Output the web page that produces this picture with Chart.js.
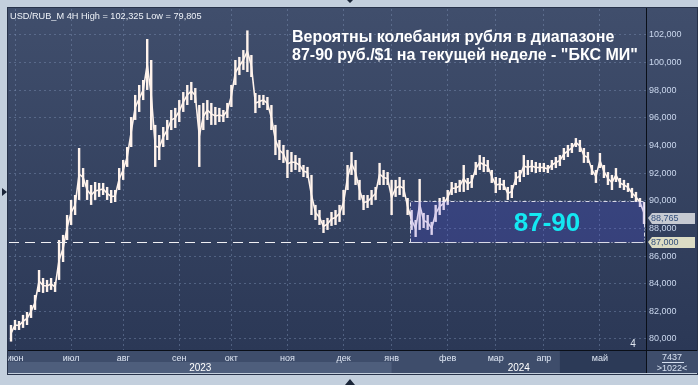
<!DOCTYPE html>
<html>
<head>
<meta charset="utf-8">
<script src="https://cdn.jsdelivr.net/npm/chart.js@4.4.1/dist/chart.umd.min.js"></script>
<style>
  html, body { margin: 0; padding: 0; background: #c3cfdd; }
  canvas { display: block; }
</style>
</head>
<body>
<canvas id="myChart" width="698" height="385"></canvas>
<script>
// 4H bars, USD/RUB, June 2023 - May 2024 (low / high of each bar)
const lows = [79.81, 80.65, 80.65, 80.80, 81.01, 81.52, 82.10, 83.40, 83.33, 83.40,
  83.55, 83.40, 84.27, 85.57, 87.16, 88.25, 88.97, 90.06, 91.00, 90.06,
  89.70, 90.06, 90.28, 90.42, 90.06, 89.84, 89.91, 90.78, 91.51, 92.45,
  93.89, 95.85, 96.43, 97.29, 98.02, 95.12, 92.45, 92.95, 93.89, 94.40,
  95.12, 95.27, 95.70, 96.43, 96.93, 97.29, 97.08, 92.45, 95.12, 95.85,
  95.49, 95.49, 95.70, 95.70, 95.99, 96.79, 98.38, 99.10, 99.47, 99.32,
  98.96, 96.35, 96.72, 96.93, 96.57, 95.12, 93.31, 92.95, 92.74, 91.65,
  92.08, 92.23, 92.08, 91.72, 91.65, 88.97, 88.61, 88.25, 87.67, 87.89,
  88.18, 88.25, 88.47, 88.97, 90.78, 91.87, 91.14, 90.06, 89.33, 89.48,
  89.70, 90.06, 91.14, 91.14, 91.14, 88.97, 90.28, 90.42, 90.28, 88.97,
  87.89, 87.38, 87.89, 88.03, 87.89, 87.53, 88.47, 88.97, 89.33, 89.70,
  90.42, 90.56, 90.64, 90.64, 90.78, 90.93, 91.87, 92.23, 92.08, 92.08,
  91.29, 90.56, 90.78, 90.78, 90.06, 90.20, 91.14, 91.36, 91.72, 91.87,
  92.08, 92.01, 92.08, 92.08, 92.01, 92.23, 92.37, 92.52, 92.95, 93.17,
  93.46, 93.89, 93.53, 92.74, 92.74, 91.87, 91.29, 92.37, 91.65, 91.14,
  90.78, 91.36, 90.93, 90.78, 90.64, 90.20, 89.91, 89.55, 88.32];
const highs = [81.01, 81.37, 81.30, 81.74, 81.95, 82.46, 83.18, 84.99, 84.41, 84.27,
  84.41, 84.12, 87.16, 87.53, 88.97, 90.06, 90.42, 93.82, 92.37, 91.51,
  91.14, 91.36, 91.29, 91.29, 91.00, 90.78, 90.78, 92.37, 92.95, 93.89,
  96.06, 97.66, 98.38, 98.74, 101.71, 100.19, 95.49, 94.76, 95.34, 95.85,
  96.57, 96.72, 97.29, 97.87, 98.38, 98.60, 98.16, 96.93, 97.08, 97.29,
  97.08, 96.79, 96.72, 96.57, 97.08, 98.38, 100.19, 100.41, 100.91, 102.33,
  100.55, 97.80, 97.66, 97.66, 97.51, 96.93, 95.49, 94.40, 94.04, 93.68,
  93.53, 93.31, 93.10, 92.59, 92.45, 91.87, 89.70, 89.33, 88.61, 88.76,
  89.19, 89.33, 89.70, 90.78, 92.59, 93.53, 92.95, 91.51, 90.42, 90.42,
  90.78, 91.00, 92.74, 92.23, 92.08, 91.51, 91.51, 91.72, 91.51, 90.20,
  89.33, 88.61, 91.58, 89.12, 88.97, 88.47, 89.70, 90.20, 90.28, 90.78,
  91.36, 91.29, 91.51, 92.59, 91.65, 91.87, 92.81, 93.31, 93.17, 92.95,
  92.23, 91.72, 91.65, 91.51, 91.00, 91.14, 92.08, 92.23, 93.31, 92.95,
  92.95, 92.81, 92.74, 92.74, 92.59, 92.95, 93.17, 93.31, 93.82, 94.04,
  94.18, 94.54, 94.40, 93.82, 93.53, 92.59, 92.23, 93.46, 92.59, 92.08,
  91.87, 92.37, 91.65, 91.51, 91.29, 90.93, 90.64, 90.20, 89.91];

// month ticks: name and the bar where each one falls
const monthNames = ['июн', 'июл', 'авг', 'сен', 'окт', 'ноя', 'дек', 'янв', 'фев', 'мар', 'апр', 'май'];
const monthBars = [1, 15, 28, 42, 55, 69, 83, 95, 109, 121, 133, 147];
const yearNames = ['2023', '2024'];
const yTicks = [80, 82, 84, 86, 88, 90, 92, 94, 96, 98, 100, 102];

const seriesHigh = 102.325;
const seriesLow = 79.805;
const lastPrice = 88.765;
const rangeLow = 87;
const rangeHigh = 90;
const rangeFromBar = 100;
const titleLines = ['Вероятны колебания рубля в диапазоне', '87-90 руб./$1 на текущей неделе - "БКС МИ"'];

const labels = lows.map(() => '');
monthBars.forEach((b, i) => { labels[b] = monthNames[i]; });

const fmt = v => v.toFixed(3).replace('.', ',');
const gridColor = 'rgba(125,145,180,0.45)';
const FONT = '"Liberation Sans", Arial, sans-serif';
const barColor = '#fff3ec';

const frame = {
    id: 'frame',
    beforeDraw(chart) {
        const { ctx, chartArea: a, width, height } = chart;
        const x = chart.scales.x;
        ctx.save();
        ctx.fillStyle = '#c3cfdd';
        ctx.fillRect(0, 0, width, height);

        // plot + price panel
        const g = ctx.createLinearGradient(0, a.top, 0, a.bottom);
        g.addColorStop(0, '#404e6c');
        g.addColorStop(1, '#2b3856');
        ctx.fillStyle = g;
        ctx.fillRect(a.left - 1, a.top - 1, width - a.left, a.bottom - a.top + 1);

        // time axis rows
        const rowH = 12;
        const yearSplit = x.getPixelForValue(monthBars[7]);
        ctx.fillStyle = '#3e4d6b';
        ctx.fillRect(a.left - 1, a.bottom, width - a.left, 23);
        ctx.fillStyle = '#4e5e7c';
        ctx.fillRect(a.left - 1, a.bottom + rowH, yearSplit - a.left + 1, 11);
        const hl = x.getPixelForValue(137);
        ctx.fillStyle = '#2c3a57';
        ctx.fillRect(hl, a.bottom + 1, a.right - hl, 22);

        ctx.fillStyle = '#ffffff';
        ctx.font = '10px ' + FONT;
        ctx.textAlign = 'center';
        ctx.textBaseline = 'alphabetic';
        ctx.fillText(yearNames[0], (a.left + yearSplit) / 2, a.bottom + 21);
        ctx.fillText(yearNames[1], (yearSplit + a.right) / 2, a.bottom + 21);
        ctx.restore();
    },
    afterDatasetsDraw(chart) {
        const { ctx, chartArea: a, scales: { x, y } } = chart;
        const step = x.getPixelForValue(1) - x.getPixelForValue(0);
        const bx = Math.round(x.getPixelForValue(rangeFromBar) - step / 2) + 0.5;
        const yTop = Math.round(y.getPixelForValue(rangeHigh)) + 0.5;
        const yBot = Math.round(y.getPixelForValue(rangeLow)) + 0.5;
        const bRight = a.right - 1.5;
        ctx.save();
        ctx.fillStyle = 'rgba(75,73,245,0.2)';
        ctx.fillRect(bx, yTop, bRight - bx, yBot - yTop);
        ctx.strokeStyle = 'rgba(235,235,245,0.9)';
        ctx.lineWidth = 1;
        ctx.setLineDash([4, 2, 1, 2]);
        ctx.beginPath();
        ctx.moveTo(bx, yBot); ctx.lineTo(bx, yTop); ctx.lineTo(bRight, yTop); ctx.lineTo(bRight, yBot);
        ctx.stroke();
        ctx.setLineDash([12, 2, 1, 2]);
        ctx.beginPath();
        ctx.moveTo(bx, yBot); ctx.lineTo(bRight, yBot);
        ctx.stroke();
        // 87 level
        ctx.strokeStyle = '#f0f0f4';
        ctx.setLineDash([10, 6]);
        ctx.beginPath();
        ctx.moveTo(a.left, yBot); ctx.lineTo(bx, yBot);
        ctx.stroke();
        ctx.setLineDash([]);

        ctx.fillStyle = '#14e8f2';
        ctx.font = 'bold 26px ' + FONT;
        ctx.textAlign = 'center';
        ctx.textBaseline = 'alphabetic';
        ctx.fillText(rangeLow + '-' + rangeHigh, 547, (yTop + yBot) / 2 + 9);
        ctx.restore();
    },
    afterDraw(chart) {
        const { ctx, chartArea: a, width, scales: { y } } = chart;
        ctx.save();
        // separators
        ctx.strokeStyle = '#0a0f18';
        ctx.lineWidth = 1;
        ctx.beginPath();
        ctx.moveTo(a.right + 0.5, a.top - 1); ctx.lineTo(a.right + 0.5, a.bottom + 23);
        ctx.moveTo(a.left - 1, a.bottom + 0.5); ctx.lineTo(width, a.bottom + 0.5);
        ctx.stroke();
        ctx.strokeStyle = '#27324a';
        ctx.strokeRect(a.left - 1.5, a.top - 1.5, width - a.left + 1, a.bottom - a.top + 26);

        // header
        ctx.fillStyle = '#eef2f8';
        ctx.font = '9.2px ' + FONT;
        ctx.textAlign = 'left';
        ctx.textBaseline = 'alphabetic';
        ctx.fillText('USD/RUB_M 4H High = ' + fmt(seriesHigh) + ' Low = ' + fmt(seriesLow), 10, 19);

        // title
        ctx.fillStyle = '#ffffff';
        ctx.font = 'bold 16px ' + FONT;
        ctx.fillText(titleLines[0], 292, 42);
        ctx.fillText(titleLines[1], 292, 60);

        // price tags
        const tag = (v, fill) => {
            const ty = Math.round(y.getPixelForValue(v));
            ctx.fillStyle = fill;
            ctx.beginPath();
            ctx.moveTo(a.right + 2, ty);
            ctx.lineTo(a.right + 6, ty - 5);
            ctx.lineTo(width - 3, ty - 5);
            ctx.lineTo(width - 3, ty + 6);
            ctx.lineTo(a.right + 6, ty + 6);
            ctx.closePath();
            ctx.fill();
            ctx.fillStyle = '#34507c';
            ctx.font = '9px ' + FONT;
            ctx.textBaseline = 'middle';
            ctx.fillText(fmt(v), a.right + 5, ty + 1);
        };
        tag(lastPrice, '#c6cad2');
        tag(rangeLow, '#dcdcc4');

        // corner cell
        ctx.fillStyle = '#3e4d6b';
        ctx.fillRect(a.right + 1, a.bottom + 1, width - a.right - 1, 22);
        ctx.fillStyle = '#d6e0f0';
        ctx.font = '9px ' + FONT;
        ctx.textAlign = 'center';
        ctx.textBaseline = 'alphabetic';
        ctx.fillText('7437', 672, a.bottom + 10);
        ctx.fillText('>1022<', 672, a.bottom + 21);
        ctx.strokeStyle = '#d6e0f0';
        ctx.beginPath();
        ctx.moveTo(662, a.bottom + 12.5); ctx.lineTo(684, a.bottom + 12.5);
        ctx.stroke();

        // small marks
        ctx.fillStyle = '#dfe6f0';
        ctx.font = '10px ' + FONT;
        ctx.fillText('4', 633, a.bottom - 3);
        ctx.fillStyle = '#1a2538';
        ctx.beginPath();
        ctx.moveTo(2, 188); ctx.lineTo(7, 192); ctx.lineTo(2, 196); ctx.closePath();
        ctx.moveTo(345, 385); ctx.lineTo(350, 379); ctx.lineTo(355, 385); ctx.closePath();
        ctx.moveTo(347, 0); ctx.lineTo(353, 0); ctx.lineTo(350, 3); ctx.closePath();
        ctx.fill();
        ctx.restore();
    }
};

const myChart = new Chart(document.getElementById('myChart').getContext('2d'), {
    type: 'bar',
    data: {
        labels: labels,
        datasets: [{
            data: lows.map((l, i) => [l, highs[i]]),
            backgroundColor: barColor,
            borderWidth: 0,
            barPercentage: 0.6,
            categoryPercentage: 1,
            order: 1
        }, {
            // thin trace through each bar so the bars read as one squiggle
            type: 'line',
            data: lows.map((l, i) => (l + highs[i]) / 2),
            borderColor: barColor,
            borderWidth: 1.6,
            pointRadius: 0,
            tension: 0,
            order: 0
        }]
    },
    options: {
        responsive: false,
        animation: false,
        devicePixelRatio: 1,
        layout: { padding: { left: 9, top: 9, right: 0, bottom: 12 } },
        plugins: { legend: { display: false }, tooltip: { enabled: false } },
        scales: {
            x: {
                grid: {
                    offset: false,
                    drawTicks: false,
                    color: c => (c.tick && c.tick.label) ? gridColor : 'rgba(0,0,0,0)'
                },
                border: { display: false, dash: [2, 3] },
                ticks: {
                    autoSkip: false, maxRotation: 0, minRotation: 0, padding: 3,
                    color: '#dfe7f4', font: { family: FONT, size: 9 }
                },
                afterFit: s => { s.height = 23; }
            },
            y: {
                position: 'right',
                min: 79.2,
                max: 103.88,
                afterBuildTicks: s => { s.ticks = yTicks.map(v => ({ value: v })); },
                grid: { color: gridColor, drawTicks: false },
                border: { display: false, dash: [2, 3] },
                ticks: {
                    padding: 3, color: '#cbd8ee', font: { family: FONT, size: 9 },
                    callback: v => fmt(v)
                },
                afterFit: s => { s.width = 52; }
            }
        }
    },
    plugins: [frame]
});
</script>
</body>
</html>
